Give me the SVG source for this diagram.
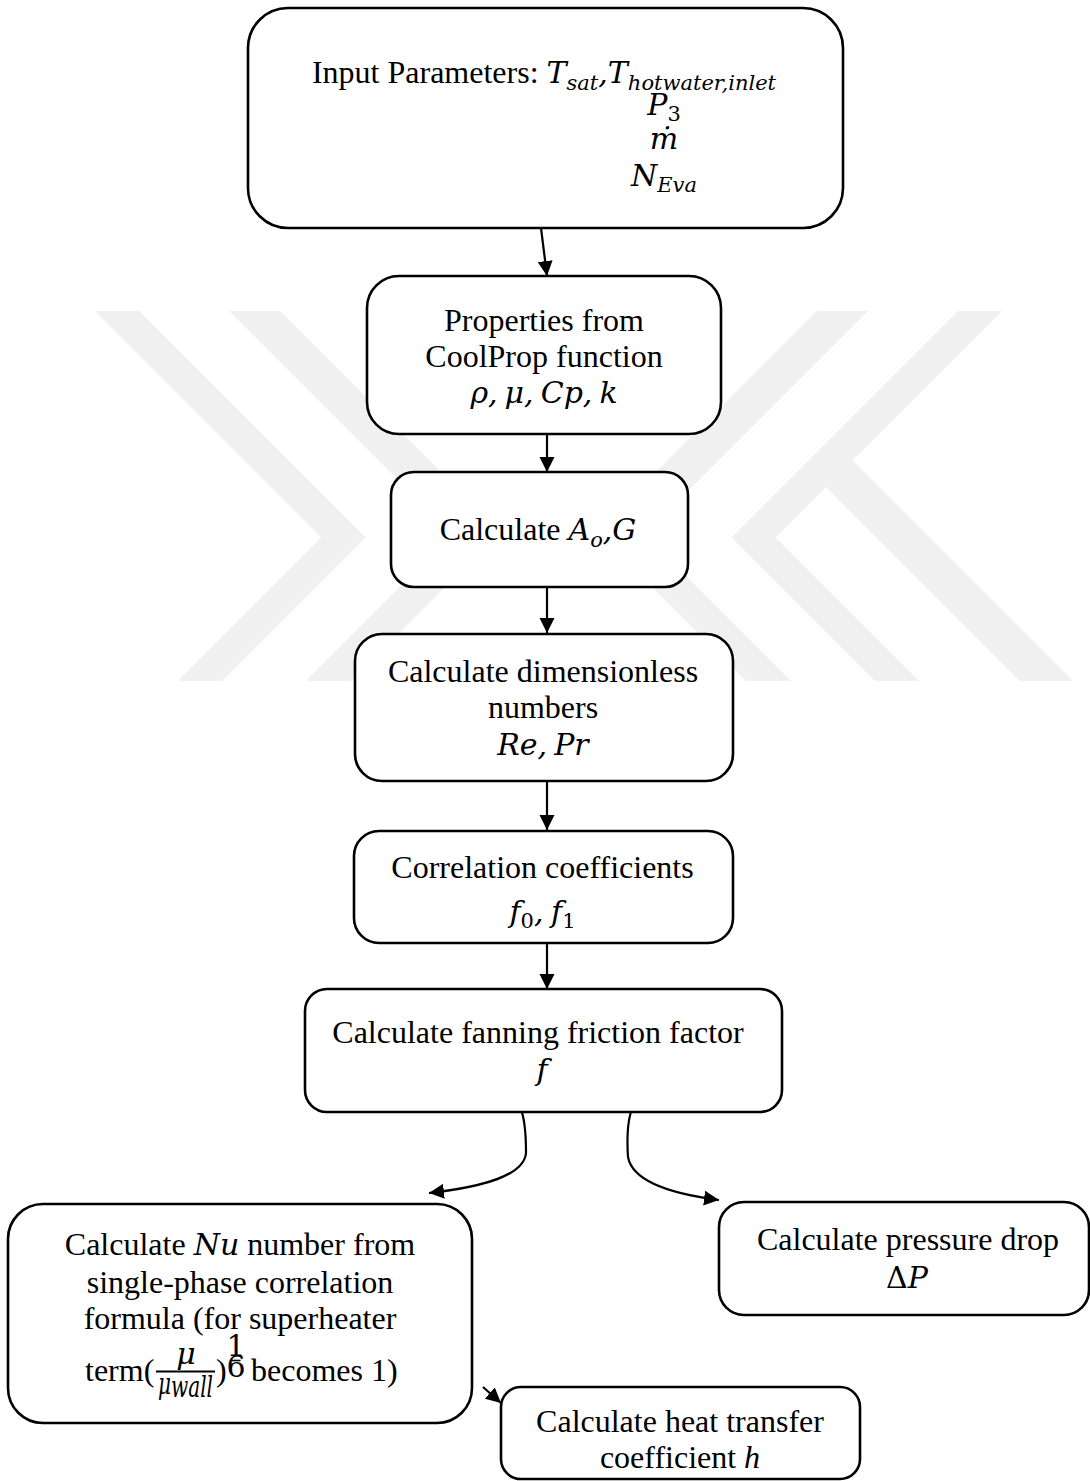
<svg xmlns="http://www.w3.org/2000/svg" width="1090" height="1481" viewBox="0 0 1090 1481">
  <defs>
    <style>
      .t { font-family: "Liberation Serif", "Times New Roman", serif; font-size: 32px; fill: #000; }
      .m { font-family: "DejaVu Serif", serif; font-style: italic; font-size: 30px; }
      .mu { font-family: "DejaVu Serif", serif; font-style: normal; font-size: 30px; }
      .s { font-size: 21px; }
      .ti { font-family: "Liberation Serif", "Times New Roman", serif; font-style: italic; }
      .box { fill: #fff; stroke: #000; stroke-width: 2.6; }
      .wire { fill: none; stroke: #000; stroke-width: 2.2; marker-end: url(#ah); }
      .mark { fill: #f0f0f0; }
    </style>
    <marker id="ah" markerUnits="userSpaceOnUse" markerWidth="16" markerHeight="16" refX="15" refY="7.5" orient="auto">
      <path d="M0,0 L15,7.5 L0,15 Z" fill="#000"/>
    </marker>
  </defs>

  <rect width="1090" height="1481" fill="#fff"/>

  <!-- background emblem: nested chevrons -->
  <g id="emblem">
    <polygon class="mark" points="95,311 139,311 365.5,537.5 222,681 178,681 321.5,537.5"/>
    <polygon class="mark" points="229,311 280,311 500.5,531.5 351,681 306,681 452.5,534.5"/>
    <polygon class="mark" points="868,311 817,311 596.5,531.5 746,681 791,681 644.5,534.5"/>
    <polygon class="mark" points="1002,311 958,311 731.5,537.5 875,681 919,681 775.5,537.5"/>
    <polygon class="mark" points="804,465 852.5,460.5 1073,681 1020,681"/>
  </g>

  <!-- connectors -->
  <g id="connectors">
    <path class="wire" d="M541 228 L547 276"/>
    <path class="wire" d="M547 435 L547 472"/>
    <path class="wire" d="M547 587 L547 633"/>
    <path class="wire" d="M547 781 L547 830"/>
    <path class="wire" d="M547 943 L547 989"/>
    <path class="wire" d="M521.7 1111.7 C526 1125 526 1140 526 1153 C524 1176 482 1187 429 1193"/>
    <path class="wire" d="M631 1111.7 C627 1125 627 1142 628 1157 C633 1184 680 1195 719 1200"/>
    <path class="wire" d="M483 1387 L501 1403"/>
  </g>

  <g id="input">
    <rect class="box" x="248" y="8" width="595" height="220" rx="40"/>
    <text class="t" x="544" y="83" text-anchor="middle">Input Parameters: <tspan class="m">T</tspan><tspan class="m s" dy="7">sat</tspan><tspan class="m" dy="-7">,</tspan><tspan class="m">T</tspan><tspan class="m s" dy="7">hotwater,inlet</tspan></text>
    <text class="t" x="664" y="115" text-anchor="middle"><tspan class="m">P</tspan><tspan class="mu s" dy="6">3</tspan></text>
    <text class="t" x="664" y="149" text-anchor="middle"><tspan class="m">ṁ</tspan></text>
    <text class="t" x="664" y="186" text-anchor="middle"><tspan class="m">N</tspan><tspan class="m s" dy="6">Eva</tspan></text>
  </g>

  <g id="properties">
    <rect class="box" x="367" y="276" width="354" height="158" rx="32"/>
    <text class="t" x="544" y="331" text-anchor="middle">Properties from</text>
    <text class="t" x="544" y="367" text-anchor="middle">CoolProp function</text>
    <text class="t" x="544" y="403" text-anchor="middle" word-spacing="-2.5"><tspan class="m" font-size="26">ρ, μ, Cp, k</tspan></text>
  </g>

  <g id="area">
    <rect class="box" x="391" y="472" width="297" height="115" rx="23"/>
    <text class="t" x="538" y="540" text-anchor="middle">Calculate <tspan class="m">A</tspan><tspan class="m s" dy="7">o</tspan><tspan class="m" dy="-7">,G</tspan></text>
  </g>

  <g id="dimensionless">
    <rect class="box" x="355" y="634" width="378" height="147" rx="27"/>
    <text class="t" x="543" y="682" text-anchor="middle">Calculate dimensionless</text>
    <text class="t" x="543" y="718" text-anchor="middle">numbers</text>
    <text class="t" x="543" y="755" text-anchor="middle" word-spacing="-2.5"><tspan class="m" font-size="27">Re, Pr</tspan></text>
  </g>

  <g id="coefficients">
    <rect class="box" x="354" y="831" width="379" height="112" rx="25"/>
    <text class="t" x="542.5" y="878" text-anchor="middle">Correlation coefficients</text>
    <text class="t" x="542.5" y="922" text-anchor="middle" word-spacing="-2"><tspan class="m" font-size="28">f</tspan><tspan class="mu s" dy="6">0</tspan><tspan class="m" font-size="28" dy="-6">, f</tspan><tspan class="mu s" dy="6">1</tspan></text>
  </g>

  <g id="friction">
    <rect class="box" x="305" y="989" width="477" height="123" rx="22"/>
    <text class="t" x="538" y="1043" text-anchor="middle">Calculate fanning friction factor</text>
    <text class="t" x="542" y="1080" text-anchor="middle"><tspan class="m">f</tspan></text>
  </g>

  <g id="nusselt">
    <rect class="box" x="8" y="1204" width="464" height="219" rx="35"/>
    <text class="t" x="240" y="1255" text-anchor="middle">Calculate <tspan class="m">Nu</tspan> number from</text>
    <text class="t" x="240" y="1293" text-anchor="middle">single-phase correlation</text>
    <text class="t" x="240" y="1329" text-anchor="middle">formula (for superheater</text>
    <text class="t" x="85" y="1381">term(</text>
    <text class="t" x="186" y="1364" text-anchor="middle"><tspan class="m" font-size="20">μ</tspan></text>
    <line x1="156" y1="1371.5" x2="215" y2="1371.5" stroke="#000" stroke-width="2"/>
    <text class="t" x="158" y="1394" textLength="55" lengthAdjust="spacingAndGlyphs"><tspan class="m" font-size="19">μ</tspan><tspan class="m" font-size="14" dy="3">wall</tspan></text>
    <text class="t" x="216" y="1381">)</text>
    <text class="t" x="236" y="1356" text-anchor="middle"><tspan class="mu" font-size="12">1</tspan></text>
    <line x1="231.5" y1="1360.5" x2="240.5" y2="1360.5" stroke="#000" stroke-width="1.6"/>
    <text class="t" x="236" y="1377" text-anchor="middle"><tspan class="mu" font-size="12">6</tspan></text>
    <text class="t" x="243" y="1381" xml:space="preserve"> becomes 1)</text>
  </g>

  <g id="pressure">
    <rect class="box" x="719" y="1202" width="370" height="113" rx="25"/>
    <text class="t" x="908" y="1250" text-anchor="middle">Calculate pressure drop</text>
    <text class="t" x="907" y="1288" text-anchor="middle"><tspan class="mu">Δ</tspan><tspan class="m">P</tspan></text>
  </g>

  <g id="heat">
    <rect class="box" x="501" y="1387" width="359" height="92" rx="20"/>
    <text class="t" x="680" y="1432" text-anchor="middle">Calculate heat transfer</text>
    <text class="t" x="680" y="1468" text-anchor="middle">coefficient <tspan class="ti">h</tspan></text>
  </g>
</svg>
